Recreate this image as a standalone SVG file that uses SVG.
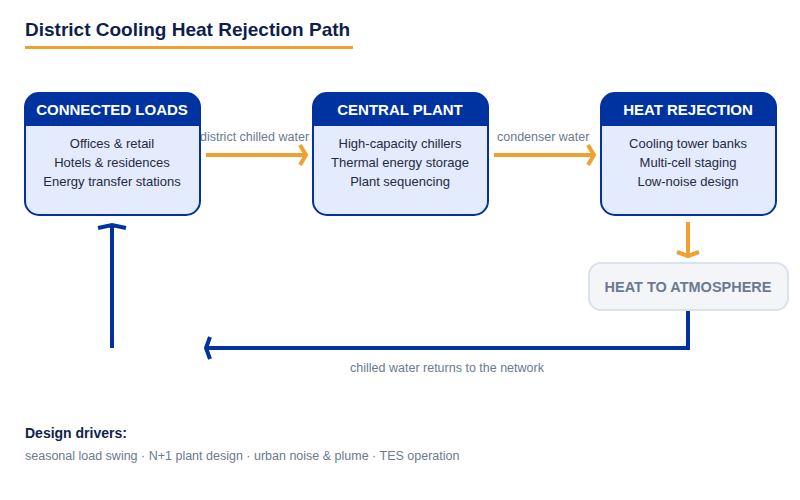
<svg xmlns="http://www.w3.org/2000/svg" width="800" height="500" viewBox="0 0 800 500">
<style>
text{font-family:"Liberation Sans",Arial,sans-serif}
.hd{fill:#fff;font-size:15px;font-weight:bold;text-anchor:middle}
.it{fill:#1f2a44;font-size:13px;text-anchor:middle}
.lb{fill:#6b7a8f;font-size:12.5px}
.box{fill:#e3ebfc;stroke:#0033a0;stroke-width:2}
.hdr{fill:#0033a0}
.or{stroke:#f0a030;stroke-width:4;fill:none}
.bl{stroke:#0033a0;stroke-width:4;fill:none}
</style>
<rect width="800" height="500" fill="#fff"/>
<text x="25" y="36" font-size="19" font-weight="bold" fill="#0f1f4d">District Cooling Heat Rejection Path</text>
<rect x="25" y="46" width="328" height="3" fill="#f0a030"/>
<g id="connectors">
<path class="or" d="M206 155H306M300 145L306 155L300 165"/>
<text class="lb" x="200" y="141">district chilled water</text>
<path class="or" d="M494 155H594M588 145L594 155L588 165"/>
<text class="lb" x="497" y="141">condenser water</text>
<path class="or" d="M688 222V256M677 252L688 256L699 252"/>
<path class="bl" d="M688 310V348H206M210 337L206 348L210 359"/>
<path class="bl" d="M112 348V225M98 228L112 225L126 228"/>
<text class="lb" x="447" y="372" text-anchor="middle">chilled water returns to the network</text>
</g>
<g id="loads">
<rect class="box" x="25" y="93" width="175" height="122" rx="14"/>
<path class="hdr" d="M39 93H186A14 14 0 0 1 200 107V126H25V107A14 14 0 0 1 39 93Z"/>
<text class="hd" x="112" y="115">CONNECTED LOADS</text>
<text class="it" x="112" y="148">Offices &amp; retail</text>
<text class="it" x="112" y="167">Hotels &amp; residences</text>
<text class="it" x="112" y="186">Energy transfer stations</text>
</g>
<g id="plant">
<rect class="box" x="313" y="93" width="175" height="122" rx="14"/>
<path class="hdr" d="M327 93H474A14 14 0 0 1 488 107V126H313V107A14 14 0 0 1 327 93Z"/>
<text class="hd" x="400" y="115">CENTRAL PLANT</text>
<text class="it" x="400" y="148">High-capacity chillers</text>
<text class="it" x="400" y="167">Thermal energy storage</text>
<text class="it" x="400" y="186">Plant sequencing</text>
</g>
<g id="rejection">
<rect class="box" x="601" y="93" width="175" height="122" rx="14"/>
<path class="hdr" d="M615 93H762A14 14 0 0 1 776 107V126H601V107A14 14 0 0 1 615 93Z"/>
<text class="hd" x="688" y="115">HEAT REJECTION</text>
<text class="it" x="688" y="148">Cooling tower banks</text>
<text class="it" x="688" y="167">Multi-cell staging</text>
<text class="it" x="688" y="186">Low-noise design</text>
</g>
<g id="atmosphere">
<rect x="589" y="263" width="199" height="47" rx="12" fill="#f3f5f9" stroke="#dbe2ec" stroke-width="2"/>
<text x="688" y="292" font-size="14.5" font-weight="bold" fill="#6b7a8f" text-anchor="middle">HEAT TO ATMOSPHERE</text>
</g>
<text x="25" y="438" font-size="14" font-weight="bold" fill="#0f1f4d">Design drivers:</text>
<text class="lb" x="25" y="460">seasonal load swing  ·  N+1 plant design  ·  urban noise &amp; plume  ·  TES operation</text>
</svg>
